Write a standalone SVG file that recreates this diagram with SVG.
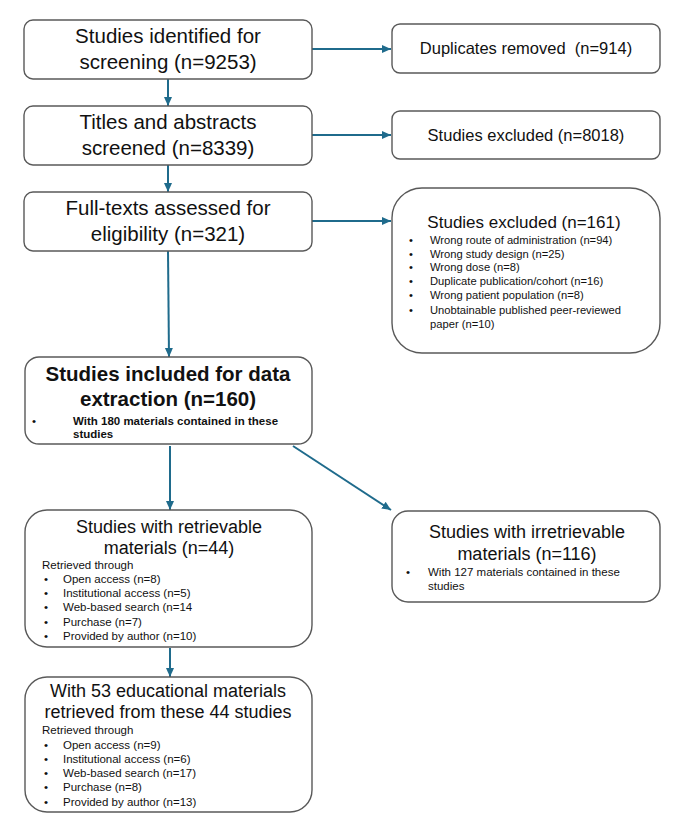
<svg xmlns="http://www.w3.org/2000/svg" width="686" height="823" viewBox="0 0 686 823">
<style>
.box{fill:#fff;stroke:#595959;stroke-width:1.4}
.t{font-family:"Liberation Sans",Arial,sans-serif;fill:#111}
.big{font-size:20.5px;text-anchor:middle}
.mid{font-size:16.5px;text-anchor:middle}
.h{font-size:18px;text-anchor:middle}
.s{font-size:11.5px}
.b{font-weight:bold}
.c{stroke:#1f6b8c;stroke-width:2;fill:none;marker-end:url(#ah)}
</style>
<defs>
<marker id="ah" markerUnits="userSpaceOnUse" markerWidth="10" markerHeight="10" refX="9" refY="5" orient="auto">
<path d="M0,1 L9,5 L0,9 Z" fill="#1f6b8c"/>
</marker>
</defs>
<rect width="686" height="823" fill="#fff"/>
<g id="connectors">
<line class="c" x1="312" y1="49" x2="391" y2="49"/>
<line class="c" x1="312" y1="135" x2="391" y2="135"/>
<line class="c" x1="312" y1="221" x2="391" y2="221"/>
<line class="c" x1="168" y1="79" x2="168" y2="106"/>
<line class="c" x1="168" y1="165" x2="168" y2="192"/>
<line class="c" x1="168" y1="251" x2="169" y2="357"/>
<line class="c" x1="170" y1="446" x2="170" y2="510"/>
<line class="c" x1="293" y1="446" x2="391" y2="510"/>
<line class="c" x1="170" y1="648" x2="170" y2="677"/>
</g>
<g id="identified">
<rect class="box" x="24" y="20" width="288" height="59" rx="9"/>
<text class="t big" x="168" y="43">Studies identified for</text>
<text class="t big" x="168" y="69">screening (n=9253)</text>
</g>
<g id="screened">
<rect class="box" x="24" y="106" width="288" height="59" rx="9"/>
<text class="t big" x="168" y="129">Titles and abstracts</text>
<text class="t big" x="168" y="155">screened (n=8339)</text>
</g>
<g id="fulltext">
<rect class="box" x="24" y="192" width="288" height="59" rx="9"/>
<text class="t big" x="168" y="215">Full-texts assessed for</text>
<text class="t big" x="168" y="241">eligibility (n=321)</text>
</g>
<g id="duplicates">
<rect class="box" x="392" y="24" width="268" height="49" rx="8"/>
<text class="t mid" x="526" y="54" xml:space="preserve">Duplicates removed  (n=914)</text>
</g>
<g id="excluded1">
<rect class="box" x="392" y="111" width="268" height="48" rx="8"/>
<text class="t mid" x="526" y="141">Studies excluded (n=8018)</text>
</g>
<g id="excluded2">
<rect class="box" x="392" y="188" width="268" height="165" rx="30"/>
<text class="t" x="524" y="228" font-size="17" text-anchor="middle">Studies excluded (n=161)</text>
<g class="t" font-size="11.2">
<text x="409" y="244">•</text><text x="430" y="244">Wrong route of administration (n=94)</text>
<text x="409" y="258">•</text><text x="430" y="258">Wrong study design (n=25)</text>
<text x="409" y="271">•</text><text x="430" y="271">Wrong dose (n=8)</text>
<text x="409" y="285">•</text><text x="430" y="285">Duplicate publication/cohort (n=16)</text>
<text x="409" y="299">•</text><text x="430" y="299">Wrong patient population (n=8)</text>
<text x="409" y="314">•</text><text x="430" y="314">Unobtainable published peer-reviewed</text>
<text x="430" y="328">paper (n=10)</text>
</g>
</g>
<g id="included">
<rect class="box" x="25" y="357" width="287" height="87" rx="14"/>
<text class="t big b" x="168" y="381">Studies included for data</text>
<text class="t big b" x="168" y="406">extraction (n=160)</text>
<text class="t s" x="32" y="425">•</text>
<text class="t s b" x="73" y="425">With 180 materials contained in these</text>
<text class="t s b" x="73" y="438">studies</text>
</g>
<g id="retrievable">
<rect class="box" x="25" y="510" width="287" height="137" rx="22"/>
<text class="t h" x="169" y="533">Studies with retrievable</text>
<text class="t h" x="169" y="554">materials (n=44)</text>
<g class="t s">
<text x="42" y="569">Retrieved through</text>
<text x="44" y="583">•</text><text x="63" y="583">Open access (n=8)</text>
<text x="44" y="597">•</text><text x="63" y="597">Institutional access (n=5)</text>
<text x="44" y="611">•</text><text x="63" y="611">Web-based search (n=14</text>
<text x="44" y="626">•</text><text x="63" y="626">Purchase (n=7)</text>
<text x="44" y="640">•</text><text x="63" y="640">Provided by author (n=10)</text>
</g>
</g>
<g id="irretrievable">
<rect class="box" x="392" y="511" width="268" height="91" rx="16"/>
<text class="t h" x="527" y="538">Studies with irretrievable</text>
<text class="t h" x="527" y="560">materials (n=116)</text>
<text class="t s" x="406" y="576">•</text>
<text class="t s" x="428" y="576">With 127 materials contained in these</text>
<text class="t s" x="428" y="590">studies</text>
</g>
<g id="materials">
<rect class="box" x="25" y="677" width="287" height="135" rx="22"/>
<text class="t h" x="168" y="697">With 53 educational materials</text>
<text class="t h" x="168" y="718">retrieved from these 44 studies</text>
<g class="t s">
<text x="42" y="734">Retrieved through</text>
<text x="44" y="749">•</text><text x="63" y="749">Open access (n=9)</text>
<text x="44" y="763">•</text><text x="63" y="763">Institutional access (n=6)</text>
<text x="44" y="777">•</text><text x="63" y="777">Web-based search (n=17)</text>
<text x="44" y="791">•</text><text x="63" y="791">Purchase (n=8)</text>
<text x="44" y="806">•</text><text x="63" y="806">Provided by author (n=13)</text>
</g>
</g>
</svg>
